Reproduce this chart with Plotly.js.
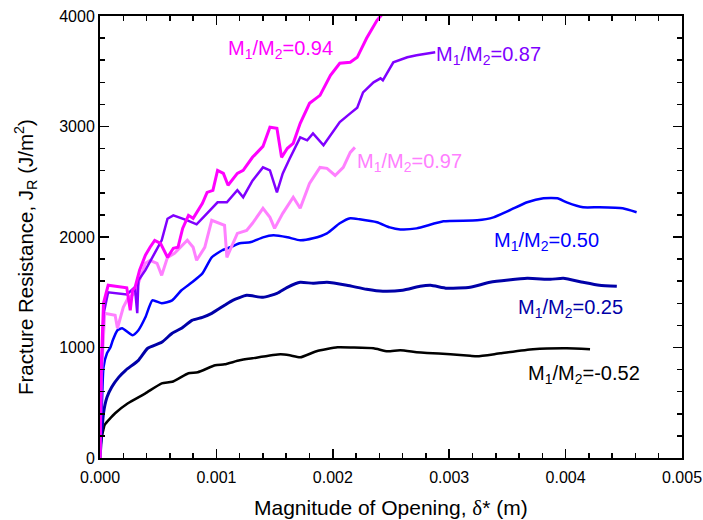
<!DOCTYPE html>
<html>
<head>
<meta charset="utf-8">
<script src="https://cdn.plot.ly/plotly-3.0.1.min.js"></script>
<style>
  html, body { margin: 0; padding: 0; background: #fff; }
  #chart { width: 703px; height: 520px; }
</style>
</head>
<body>
<div id="chart"></div>
<script>
// J-R resistance curves for several mode-mix ratios M1/M2
// opening magnitude delta* (m) vs fracture resistance J_R (J/m^2)

const ratioLabels = ["0.94", "0.87", "0.97", "0.50", "0.25", "-0.52"];

// M1/M2 = 0.94
const x094 = [0, 0.00001, 0.00003, 0.00007, 0.00023, 0.00026, 0.00028, 0.0003, 0.00034, 0.00039, 0.00043, 0.00047, 0.00052, 0.00058, 0.00063, 0.00067, 0.00071, 0.00076, 0.0008, 0.00088, 0.00092, 0.00097, 0.00101, 0.00106, 0.0011, 0.00118, 0.00123, 0.00131, 0.0014, 0.00146, 0.00152, 0.00156, 0.00161, 0.00166, 0.00172, 0.0018, 0.00189, 0.00198, 0.00206, 0.00215, 0.00221, 0.00229, 0.00238, 0.00242];
const y094 = [0, 800, 1400, 1563, 1540, 1337, 1518, 1540, 1699, 1835, 1907, 1970, 1943, 1816, 1898, 1907, 2078, 2196, 2169, 2305, 2404, 2422, 2603, 2576, 2468, 2576, 2603, 2721, 2820, 2993, 2984, 2721, 2803, 2848, 3029, 3210, 3282, 3463, 3572, 3581, 3626, 3798, 3961, 4010];

// M1/M2 = 0.87
const x087 = [0, 0.00001, 0.00003, 0.00007, 0.00023, 0.0003, 0.00032, 0.00033, 0.00039, 0.00045, 0.00053, 0.00058, 0.00063, 0.00075, 0.00083, 0.00092, 0.00101, 0.00109, 0.00118, 0.00123, 0.00131, 0.0014, 0.00146, 0.00152, 0.00157, 0.00163, 0.00172, 0.00178, 0.00183, 0.00192, 0.002, 0.00206, 0.00215, 0.00221, 0.00226, 0.00235, 0.00241, 0.00243, 0.00252, 0.00264, 0.00272, 0.00284, 0.00288];
const y087 = [0, 700, 1300, 1499, 1480, 1545, 1310, 1608, 1700, 1816, 1970, 2165, 2196, 2151, 2115, 2214, 2314, 2314, 2423, 2360, 2510, 2630, 2603, 2404, 2576, 2710, 2902, 2875, 2938, 2830, 2950, 3040, 3119, 3170, 3309, 3400, 3436, 3418, 3581, 3626, 3644, 3662, 3671];

// M1/M2 = 0.97
const x097 = [0, 0.00001, 0.00004, 0.00013, 0.00015, 0.0002, 0.00024, 0.0003, 0.00033, 0.00039, 0.00043, 0.00049, 0.00053, 0.00058, 0.00064, 0.00075, 0.0008, 0.00083, 0.0009, 0.00096, 0.00107, 0.00109, 0.00118, 0.00126, 0.00131, 0.0014, 0.00146, 0.0015, 0.00157, 0.00166, 0.00172, 0.0018, 0.00189, 0.00195, 0.00202, 0.00209, 0.00215, 0.00219];
const y097 = [0, 700, 1309, 1291, 1174, 1363, 1445, 1490, 1581, 1762, 1789, 1762, 1653, 1816, 1852, 1970, 1907, 1789, 1907, 2151, 2105, 1816, 2033, 2060, 2124, 2260, 2178, 2078, 2214, 2360, 2260, 2485, 2630, 2621, 2557, 2630, 2766, 2811];

// M1/M2 = 0.50
const x050 = [0, 0.00002, 0.00003, 0.00006, 0.00009, 0.00011, 0.00015, 0.00019, 0.00028, 0.00033, 0.00039, 0.00045, 0.00053, 0.00062, 0.0007, 0.00079, 0.00088, 0.00096, 0.00105, 0.00112, 0.0012, 0.00129, 0.0014, 0.00149, 0.00161, 0.00172, 0.00183, 0.00195, 0.00206, 0.00215, 0.00223, 0.00238, 0.00249, 0.00258, 0.00272, 0.00295, 0.00324, 0.00338, 0.00352, 0.00367, 0.00381, 0.00393, 0.00401, 0.00415, 0.00429, 0.00449, 0.00461];
const y050 = [0, 600, 821, 948, 1002, 1065, 1156, 1174, 1111, 1156, 1273, 1427, 1400, 1427, 1518, 1590, 1671, 1816, 1880, 1907, 1943, 1952, 1997, 2015, 1997, 1970, 1988, 2033, 2124, 2169, 2160, 2133, 2087, 2069, 2078, 2142, 2151, 2178, 2242, 2314, 2350, 2350, 2314, 2269, 2269, 2260, 2224];

// M1/M2 = 0.25
const x025 = [0, 0.00003, 0.00006, 0.0001, 0.00016, 0.00022, 0.00033, 0.00041, 0.00053, 0.00062, 0.0007, 0.00079, 0.00088, 0.00096, 0.00107, 0.00114, 0.00126, 0.0014, 0.00152, 0.00161, 0.00172, 0.00183, 0.00195, 0.00212, 0.00229, 0.00243, 0.0026, 0.00275, 0.00284, 0.00298, 0.00318, 0.00335, 0.00367, 0.00387, 0.00398, 0.00415, 0.00429, 0.00444];
const y025 = [0, 405, 549, 640, 730, 794, 884, 993, 1047, 1129, 1174, 1246, 1273, 1309, 1382, 1427, 1472, 1454, 1490, 1545, 1590, 1581, 1590, 1563, 1527, 1509, 1518, 1554, 1563, 1536, 1545, 1590, 1626, 1617, 1626, 1590, 1563, 1554];

// M1/M2 = -0.52
const xm052 = [0, 0.00001, 0.00003, 0.00004, 0.00013, 0.00024, 0.00039, 0.00053, 0.00062, 0.00076, 0.00084, 0.00099, 0.00107, 0.0012, 0.00131, 0.00155, 0.00163, 0.00172, 0.00186, 0.00204, 0.00217, 0.00235, 0.00247, 0.00258, 0.00272, 0.00281, 0.00301, 0.00318, 0.00324, 0.00344, 0.00372, 0.00401, 0.00421];
const ym052 = [0, 160, 260, 300, 405, 495, 585, 676, 690, 767, 776, 839, 848, 884, 902, 938, 929, 911, 966, 1002, 1000, 993, 966, 975, 957, 950, 940, 925, 920, 947, 984, 993, 984];

// where each curve's label sits (data coordinates)
const labelX = [0.00108, 0.00287, 0.00219, 0.00337, 0.00357, 0.00366];
const labelY = [3700, 3640, 2670, 1955, 1350, 752];

const colors = ["#ff00ff", "#8000ff", "#ff80ff", "#0000ff", "#0000a8", "#000000"];

const FONT = "Liberation Sans, Arial, sans-serif";

function curve(x, y, color, width, smooth) {
  return {
    x: x, y: y, type: "scatter", mode: "lines",
    line: smooth ? {color: color, width: width, shape: "spline", smoothing: 0.5}
                 : {color: color, width: width},
    hoverinfo: "skip", showlegend: false
  };
}

const traces = [
  curve(xm052, ym052, colors[5], 2.5, true),
  curve(x025, y025, colors[4], 3, true),
  curve(x050, y050, colors[3], 2.5, true),
  curve(x097, y097, colors[2], 3, false),
  curve(x087, y087, colors[1], 2.5, false),
  curve(x094, y094, colors[0], 3, false)
];

const annotations = ratioLabels.map((r, i) => ({
  x: labelX[i], y: labelY[i], xref: "x", yref: "y",
  xanchor: "left", yanchor: "middle",
  text: "M<sub>1</sub>/M<sub>2</sub>=" + r,
  showarrow: false,
  font: {family: FONT, size: 20, color: colors[i]}
}));

// axis titles, placed as paper-anchored text
annotations.push({
  xref: "paper", yref: "paper", x: 0.5, y: -0.112,
  xanchor: "center", yanchor: "middle", showarrow: false,
  text: "Magnitude of Opening, <span style=\"font-family:Liberation Serif\">δ</span>* (m)",
  font: {family: FONT, size: 21, color: "#000"}
});
annotations.push({
  xref: "paper", yref: "paper", x: -0.127, y: 0.455,
  xanchor: "center", yanchor: "middle", showarrow: false, textangle: -90,
  text: "Fracture Resistance, J<sub>R</sub> (J/m<sup>2</sup>)",
  font: {family: FONT, size: 20.5, color: "#000"}
});

const axisCommon = {
  showgrid: false, zeroline: false,
  showline: true, linecolor: "#000", linewidth: 2, mirror: "allticks",
  ticks: "inside", ticklen: 9, tickwidth: 1.5, tickcolor: "#000",
  tickfont: {family: FONT, size: 16, color: "#000"}
};

const layout = {
  width: 703, height: 520,
  margin: {l: 100, r: 21, t: 16, b: 62},
  paper_bgcolor: "#fff", plot_bgcolor: "#fff",
  font: {family: FONT, color: "#000"},
  xaxis: Object.assign({}, axisCommon, {
    range: [0, 0.005], dtick: 0.001, tick0: 0, tickformat: ".3f",
    ticklabelstandoff: 4,
    minor: {dtick: 0.0002, ticks: "inside", ticklen: 5, tickwidth: 1.5, tickcolor: "#000"}
  }),
  yaxis: Object.assign({}, axisCommon, {
    range: [0, 4000], dtick: 1000, tick0: 0,
    minor: {dtick: 200, ticks: "inside", ticklen: 5, tickwidth: 1.5, tickcolor: "#000"}
  }),
  annotations: annotations
};

Plotly.newPlot("chart", traces, layout, {staticPlot: true, displayModeBar: false});
</script>
</body>
</html>
